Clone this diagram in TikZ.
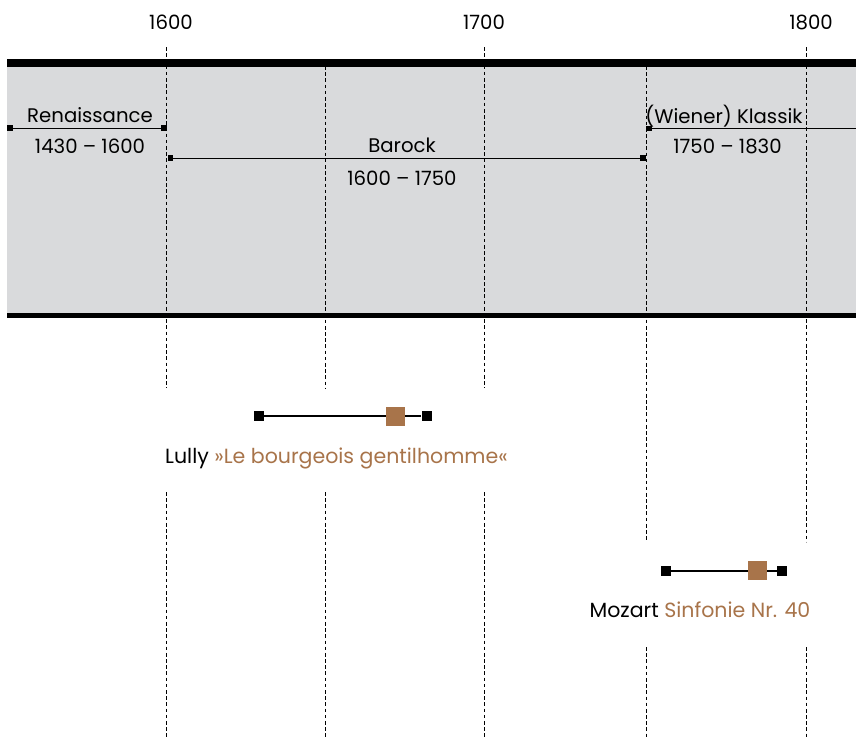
\documentclass[tikz,border=0pt]{standalone}
\usepackage{fontspec}
\setmainfont{Poppins}
\usetikzlibrary{arrows.meta}

\definecolor{banda}{HTML}{D9DADC}
\definecolor{obra}{HTML}{A8744A}

\tikzset{
	etiqueta/.style={font=\fontsize{14}{17}\selectfont, inner sep=0pt, anchor=base},
	titulo/.style={etiqueta, font=\fontsize{14.6}{17}\selectfont},
	guia/.style={line width=0.65pt, dash pattern=on 2.6pt off 1.8pt},
	epoca/.style={line width=0.7pt, {Square[length=4.2pt,width=4.2pt]}-{Square[length=4.2pt,width=4.2pt]}},
	epocaAbierta/.style={line width=0.7pt, {Square[length=4.2pt,width=4.2pt]}-},
	extremo/.style={fill=black, minimum size=0.25cm, inner sep=0pt},
	estreno/.style={fill=obra, minimum size=0.475cm, inner sep=0pt},
	vida/.style={line width=1.4pt}
}

\begin{document}
\begin{tikzpicture}[x=0.025cm, y=-0.025cm]
	\useasboundingbox (0,0) rectangle (856,737);
	
	% Fondo gris de las epocas
	\fill[banda] (7,63) rectangle (856,315.5);
	
	% Lineas de los anos (arriba y abajo, con huecos para las obras)
	\foreach \x/\ya/\yb/\yc in {166/47/388/492, 325/66/388/492, 484/47/388/492, 646/66/542/647, 806/47/542/647}{
		\draw[guia] (\x,\ya) -- (\x,\yb);
		\draw[guia] (\x,\yc) -- (\x,737);
	}
	
	% Bordes de la banda
	\draw[line width=5pt] (7,63) -- (856,63);
	\draw[line width=3.2pt] (7,315.5) -- (856,315.5);
	
	% Anos
	\foreach \x/\anio in {171/1600, 484/1700, 811/1800}
		\node[etiqueta] (anio\anio) at (\x,29.5) {\anio};
	
	% Epocas
	\coordinate (renA) at (7,128);
	\coordinate (renB) at (167,128);
	\coordinate (barA) at (167.5,158);
	\coordinate (barB) at (646,158);
	\coordinate (klaA) at (646,128.5);
	\coordinate (klaB) at (856,128.5);
	\draw[epoca] (renA) -- (renB);
	\draw[epoca] (barA) -- (barB);
	\draw[epocaAbierta] (klaA) -- (klaB);
	
	\node[etiqueta] (renNombre) at (90,122) {Renaissance};
	\node[etiqueta] (renFechas) at (90,153) {1430 – 1600};
	\node[etiqueta] (barNombre) at (402,152.5) {Barock};
	\node[etiqueta] (barFechas) at (402,185) {1600 – 1750};
	\node[etiqueta] (klaNombre) at (724,123) {(Wiener) Klassik};
	\node[etiqueta] (klaFechas) at (727.5,153) {1750 – 1830};
	
	% Lully
	\node[extremo] (lullyA) at (259,416) {};
	\node[extremo] (lullyB) at (426.5,416) {};
	\draw[vida] (lullyA) -- (lullyB);
	\node[estreno] (lullyObra) at (395.5,416) {};
	\node[titulo] (lullyTexto) at (336.5,463) {Lully \textcolor{obra}{»Le bourgeois gentilhomme«}};
	
	% Mozart
	\node[extremo] (mozartA) at (665.5,571) {};
	\node[extremo] (mozartB) at (782,571) {};
	\draw[vida] (mozartA) -- (mozartB);
	\node[estreno] (mozartObra) at (757.5,570.5) {};
	\node[titulo] (mozartTexto) at (700,617.5) {Mozart \textcolor{obra}{Sinfonie Nr. 40}};
	
\end{tikzpicture}
\end{document}
